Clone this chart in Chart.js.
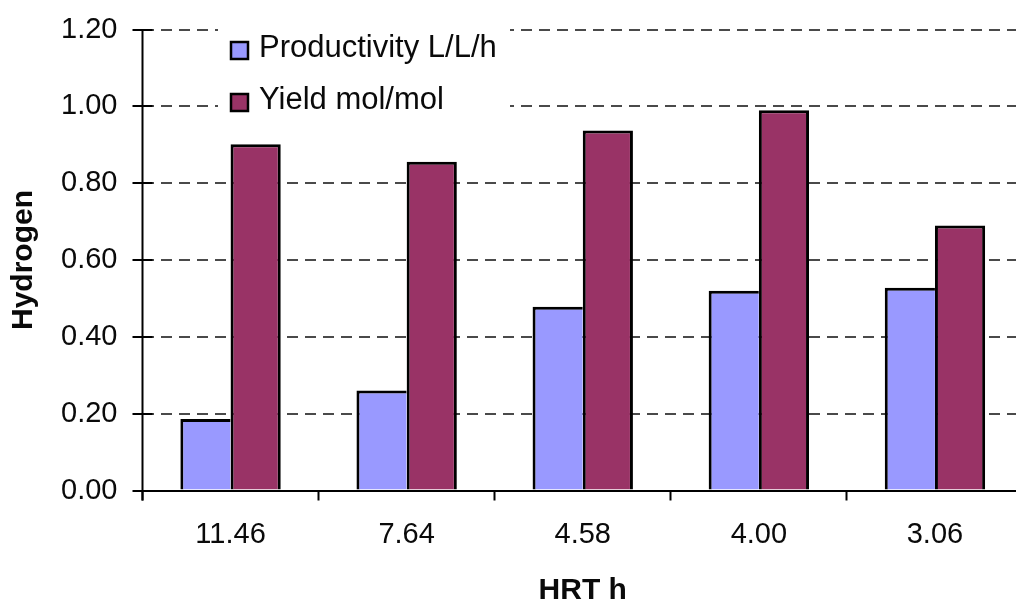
<!DOCTYPE html>
<html>
<head>
<meta charset="utf-8">
<script src="https://cdn.jsdelivr.net/npm/chart.js@4/dist/chart.umd.min.js"></script>
<style>
  html, body { margin: 0; padding: 0; background: #fff; overflow: hidden; }
  #wrap { position: relative; width: 1032px; height: 610px; }
</style>
</head>
<body>
<div id="wrap"><canvas id="c" width="1032" height="610"></canvas></div>
<script>
// Hydraulic retention time categories (hours)
const categories = ['11.46', '7.64', '4.58', '4.00', '3.06'];
// Hydrogen productivity, L/L/h
const productivity = [0.186, 0.260, 0.478, 0.520, 0.528];
// Hydrogen yield, mol/mol
const yieldValues = [0.901, 0.856, 0.937, 0.990, 0.690];
// Y axis tick values
const yTicks = [0, 0.2, 0.4, 0.6, 0.8, 1.0, 1.2];
const seriesLabels = ['Productivity L/L/h', 'Yield mol/mol'];
const seriesColors = ['#9999FF', '#993366'];

const FONT = '"Liberation Sans", Arial, sans-serif';
const TEXT = '#0a0a0a';

// Axis line with tick marks crossing it, plus the boxed legend
const decorations = {
  id: 'decorations',
  beforeDatasetsDraw(chart) {
    const ctx = chart.ctx;
    ctx.save();
    ctx.fillStyle = '#fff';
    ctx.fillRect(218, 18, 292, 100);
    ctx.restore();
  },
  afterDraw(chart) {
    const ctx = chart.ctx;
    const y = chart.scales.y;
    const area = chart.chartArea;
    const ax = area.left;
    ctx.save();
    ctx.strokeStyle = '#000';
    ctx.lineWidth = 2;
    ctx.beginPath();
    ctx.moveTo(ax, y.getPixelForValue(yTicks[yTicks.length - 1]));
    ctx.lineTo(ax, area.bottom + 10);
    yTicks.forEach(v => {
      const py = Math.round(y.getPixelForValue(v));
      ctx.moveTo(ax - 10, py);
      ctx.lineTo(ax + 10, py);
    });
    ctx.stroke();

    // legend
    const rows = [51, 103];
    chart.data.datasets.forEach((ds, i) => {
      const cy = rows[i];
      ctx.fillStyle = ds.backgroundColor;
      ctx.fillRect(231, cy - 9, 17, 17);
      ctx.strokeStyle = '#000';
      ctx.lineWidth = 2.5;
      ctx.strokeRect(231, cy - 9, 17, 17);
      ctx.fillStyle = TEXT;
      ctx.font = '31px ' + FONT;
      ctx.textBaseline = 'middle';
      ctx.textAlign = 'left';
      ctx.fillText(ds.label, 259, cy - 3);
    });
    ctx.restore();
  }
};

new Chart(document.getElementById('c'), {
  type: 'bar',
  data: {
    labels: categories,
    datasets: [
      {
        label: seriesLabels[0],
        data: productivity,
        backgroundColor: seriesColors[0],
        borderColor: '#000',
        borderWidth: { top: 3, left: 3, right: 0, bottom: 0 },
        borderSkipped: 'start',
        categoryPercentage: 0.57,
        barPercentage: 1.0
      },
      {
        label: seriesLabels[1],
        data: yieldValues,
        backgroundColor: seriesColors[1],
        borderColor: '#000',
        borderWidth: { top: 3, left: 3, right: 3, bottom: 0 },
        borderSkipped: 'start',
        categoryPercentage: 0.57,
        barPercentage: 1.0
      }
    ]
  },
  options: {
    responsive: false,
    animation: false,
    layout: { padding: { top: 29.5, right: 9, left: 0, bottom: 0 } },
    plugins: {
      legend: { display: false },
      tooltip: { enabled: false }
    },
    scales: {
      x: {
        grid: {
          display: true,
          drawOnChartArea: false,
          drawTicks: true,
          tickLength: 10,
          tickColor: '#000',
          tickWidth: 2,
          offset: true
        },
        border: { display: true, color: '#000', width: 2 },
        ticks: {
          color: TEXT,
          font: { family: FONT, size: 29 },
          padding: 17,
          maxRotation: 0
        },
        title: {
          display: true,
          text: 'HRT h',
          color: TEXT,
          font: { family: FONT, size: 30, weight: 'bold' },
          padding: { top: 0, bottom: 1 }
        },
        afterFit(scale) {
          scale.height = 610 - 490.5;
          scale.paddingLeft = 0;
          scale.paddingRight = 0;
        }
      },
      y: {
        min: 0,
        max: 1.2,
        afterBuildTicks(scale) { scale.ticks = yTicks.map(v => ({ value: v })); },
        grid: {
          color: '#4a4a4a',
          lineWidth: 2,
          drawTicks: false
        },
        border: { display: false, dash: [11, 7] },
        ticks: {
          color: TEXT,
          font: { family: FONT, size: 29 },
          padding: 25,
          callback: v => Number(v).toFixed(2)
        },
        title: {
          display: true,
          text: 'Hydrogen',
          color: TEXT,
          font: { family: FONT, size: 30, weight: 'bold' },
          padding: { top: 6, bottom: 0 }
        },
        afterFit(scale) {
          scale.width = 142.5;
          scale.paddingTop = 0;
          scale.paddingBottom = 0;
        }
      }
    }
  },
  plugins: [decorations]
});
</script>
</body>
</html>
